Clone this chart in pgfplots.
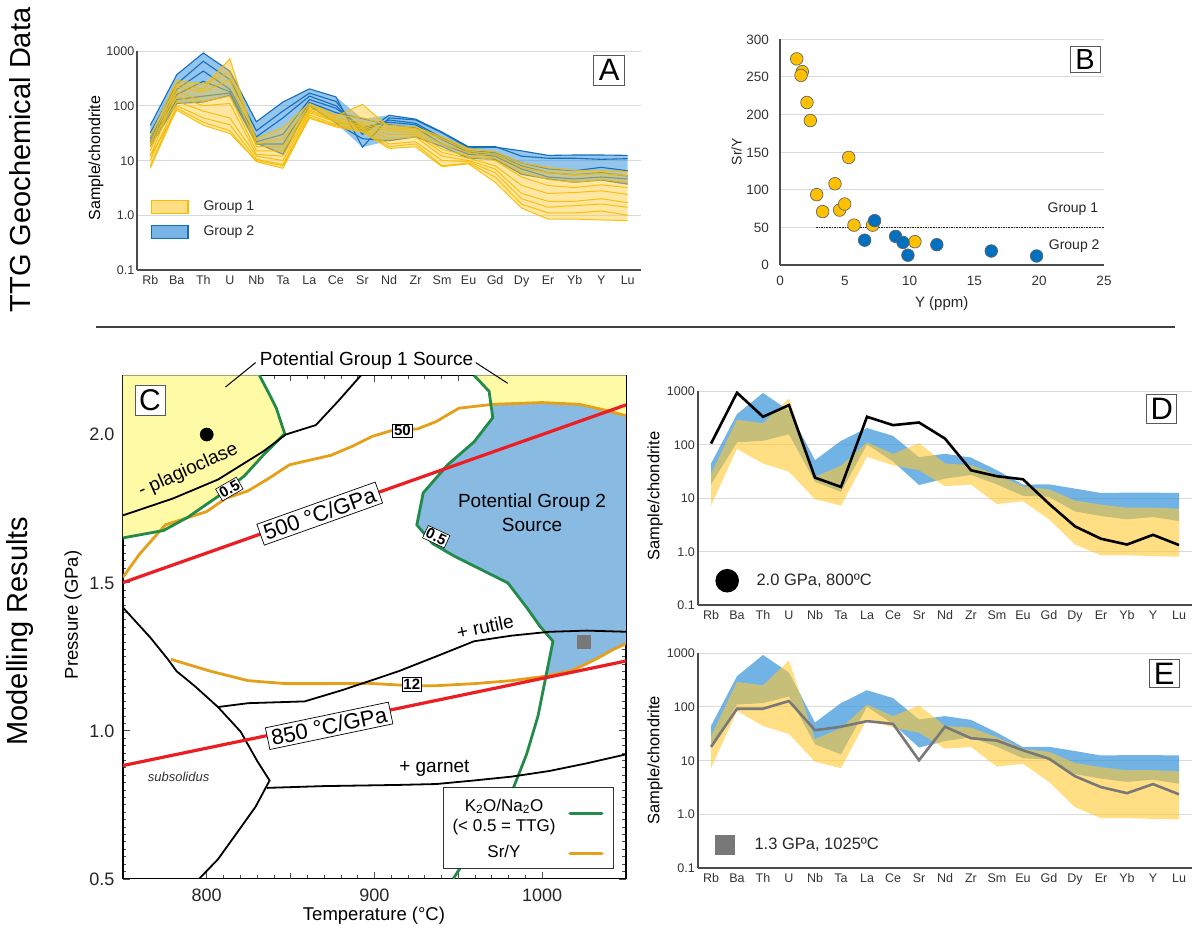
\documentclass[border=0pt]{standalone}
\usepackage{pgfplots}
\pgfplotsset{compat=1.18}
\usepackage{pgfplotstable}
\usepackage{fontspec}
\setmainfont{Liberation Sans}
\newcommand\fs[1]{\fontsize{#1}{#1}\selectfont}
\definecolor{gOneLine}{RGB}{245,188,0}
\definecolor{gOneFill}{RGB}{255,200,50}
\definecolor{gTwoLine}{RGB}{20,110,190}
\definecolor{gTwoFill}{RGB}{60,150,220}
\definecolor{ptYel}{RGB}{255,192,0}
\definecolor{ptBlu}{RGB}{0,112,192}
\definecolor{cYel}{RGB}{255,250,165}
\definecolor{cBlue}{RGB}{137,186,226}
\definecolor{cGreen}{RGB}{34,139,74}
\definecolor{cOrange}{RGB}{229,160,25}
\definecolor{cRed}{RGB}{235,30,36}
\definecolor{eGray}{RGB}{120,120,120}

\pgfplotstableread{
x b1 b2 b3 b4 b5 b6 y1 y2 y3 y4 y5 y6 y7 y8 y9 D E
0 44 32 25 22 20 18 28 20 15 12 18 10 8 7.2 12 104 17.9
1 370 250 200 160 130 110 290 250 220 180 150 120 100 90 83 930 92
2 920 650 430 280 150 117 250 200 180 120 100 80 60 50 44 330 92
3 430 300 200 180 170 155 400 725 300 150 110 60 45 35 31 545 128
4 51 35 27 22 20 21 25 20 18 15 13 12 10.5 9.5 10 24 36.7
5 117 80 60 30 20 13 40 25 18 15 12 10 8.5 7.2 8 16.1 42.5
6 203 170 150 130 115 100 110 100 90 85 80 75 68 62 59 330 54
7 145 120 100 90 75 48 67 65 60 55 52 50 45 43 41 230 48
8 17.5 30 35 40 58 25 60 106 50 45 42 40 38 35 33 258 10.1
9 60 67 55 50 45 23 44 40 38 35 30 25 20 18 16.6 129 42.5
10 55 57 48 45 40 27 41 38 35 32 30 27 22 20 17.8 33 26
11 32 33 26 24 20 18 27 25 20 16 14 12 10 8 7.7 25.5 23.5
12 17 17.8 15 14 13 11 16.5 15 14 12 11 10 9.5 9 8.7 22.4 15.5
13 17.5 18 14 13 12 10.5 14.5 13 11 10 8 7 6 5 4 7.8 10.8
14 15 12 9 8 7 5.6 9 7.5 6 5 3.5 2.5 2.0 1.6 1.35 2.95 5.1
15 12.4 11 7 6 5 4.6 7.5 6 4.5 3.5 2.5 1.8 1.4 1.1 0.85 1.73 3.2
16 12.6 11 6.5 5.5 4.6 4.0 6.6 5.5 4.0 3.2 2.6 1.8 1.5 1.1 0.85 1.35 2.47
17 12.6 10.5 7.5 6 5 4.4 6.6 5.8 4.5 3.6 2.8 2.0 1.6 1.2 0.82 2.05 3.64
18 12.4 10.8 6.5 5.2 4.6 3.7 6.3 5.3 4.0 3.2 2.4 1.7 1.4 1.0 0.8 1.32 2.35
}\spider

\pgfplotstableread{
x v
0 44
1 370
2 920
3 430
4 51
5 117
6 203
7 145
8 58
9 67
10 57
11 33
12 17.8
13 18
14 15
15 12.4
16 12.6
17 12.6
18 12.4
18 3.7
17 4.4
16 4.0
15 4.6
14 5.6
13 10.5
12 11
11 18
10 27
9 23
8 17.5
7 48
6 100
5 13
4 20
3 155
2 117
1 110
0 18
}\gtwo

\pgfplotstableread{
x v
0 28
1 290
2 250
3 725
4 25
5 40
6 110
7 67
8 106
9 44
10 41
11 27
12 16.5
13 14.5
14 9
15 7.5
16 6.6
17 6.6
18 6.3
18 0.8
17 0.82
16 0.85
15 0.85
14 1.35
13 4
12 8.7
11 7.7
10 17.8
9 16.6
8 33
7 41
6 59
5 7.2
4 9.5
3 31
2 44
1 83
0 7.2
}\gone

\pgfplotstableread{
x y
1.29 274
1.72 257
1.62 252
2.08 216
2.34 192
5.30 143
4.24 108
2.83 93.5
3.29 71
4.60 73
4.99 81
5.71 53
7.15 53
10.41 31
}\bone

\pgfplotstableread{
x y
7.30 59
6.53 33
8.92 38
9.49 30
9.87 13
12.1 27
16.3 18.6
19.8 12
}\btwo

\begin{document}
\begin{tikzpicture}
\path[use as bounding box] (0,0) rectangle (1192pt,-927pt);

% ---------- A ----------
\begin{axis}[at={(137pt,-270pt)}, anchor=south west, scale only axis, width=504pt, height=219pt,
    ymode=log, ymin=0.1, ymax=1000, xmin=-0.5, xmax=18.5,
    axis x line*=bottom, axis y line*=left,
    axis line style={-, black!70, line width=1.1pt},
    xtick={0,...,18},
    xticklabels={Rb,Ba,Th,U,Nb,Ta,La,Ce,Sr,Nd,Zr,Sm,Eu,Gd,Dy,Er,Yb,Y,Lu},
    ytick={0.1,1,10,100,1000}, yticklabels={0.1,1.0,10,100,1000},
    yminorticks=false, major tick length=0pt,
    ymajorgrids, major grid style={black!15, line width=0.9pt},
    tick label style={font=\fs{12.5}, text=black!80, inner sep=0pt, text height=9pt, text depth=0pt},
    xticklabel shift=4.8pt, yticklabel shift=2.5pt, clip=true]
\addplot[fill=gTwoFill, fill opacity=0.55, draw=none] table[x=x,y=v]{\gtwo} -- cycle;
\pgfplotsinvokeforeach{b1,b2,b3,b4,b5,b6}{
  \addplot[gTwoLine, line width=1.1pt] table[x=x,y=#1]{\spider};
}
\addplot[fill=gOneFill, fill opacity=0.45, draw=none] table[x=x,y=v]{\gone} -- cycle;
\pgfplotsinvokeforeach{y1,y2,y3,y4,y5,y6,y7,y8,y9}{
  \addplot[gOneLine, line width=1.0pt, opacity=0.9] table[x=x,y=#1]{\spider};
}
\end{axis}
\node[font=\fs{16}, rotate=90] at (96pt,-158pt) {Sample/chondrite};
\draw[line width=1.5pt, draw=gOneLine, fill=gOneFill!60] (151.4pt,-200.7pt) rectangle (188.2pt,-213.3pt);
\draw[line width=1.5pt, draw=gTwoLine, fill=gTwoFill!70] (151.4pt,-225.7pt) rectangle (188.2pt,-238.3pt);
\node[font=\fs{14}, anchor=west, text=black!85] at (200pt,-207pt) {Group 1};
\node[font=\fs{14}, anchor=west, text=black!85] at (200pt,-232pt) {Group 2};
\draw[black!65, line width=1pt, fill=white] (593.6pt,-55pt) rectangle (624.6pt,-85pt);
\node[font=\fs{31}] at (609.1pt,-70pt) {A};

% ---------- B ----------
\begin{axis}[at={(780pt,-265pt)}, anchor=south west, scale only axis, width=324pt, height=225.7pt,
  xmin=0, xmax=25, ymin=0, ymax=300,
  axis x line*=bottom, axis y line*=left,
  axis line style={-, black!70, line width=1.1pt},
  xtick={0,5,...,25}, ytick={0,50,...,300},
  major tick length=0pt, ymajorgrids, major grid style={black!15, line width=0.9pt},
  tick label style={font=\fs{13.5}, text=black!80, inner sep=0pt, text height=9.7pt, text depth=0pt},
  xticklabel shift=10.5pt, yticklabel shift=11pt,
  /pgf/number format/assume math mode=true, clip=false]
\addplot[black!85, densely dotted, line width=1.6pt] coordinates {(2.78,50) (25,50)};
\addplot[only marks, mark=*, mark size=6.3pt, mark options={fill=ptYel, draw=black!60, line width=0.7pt}] table[x=x,y=y]{\bone};
\addplot[only marks, mark=*, mark size=6.3pt, mark options={fill=ptBlu, draw=black!60, line width=0.7pt}] table[x=x,y=y]{\btwo};
\node[font=\fs{14}, text=black!85] at (axis cs:22.6,74) {Group 1};
\node[font=\fs{14}, text=black!85] at (axis cs:22.7,25) {Group 2};
\end{axis}
\node[font=\fs{14}, rotate=90, text=black!85] at (736.7pt,-151.7pt) {Sr/Y};
\node[font=\fs{15}, text=black!85] at (941.7pt,-304pt) {Y (ppm)};
\draw[black!65, line width=1pt, fill=white] (1070pt,-46.7pt) rectangle (1100pt,-72.3pt);
\node[font=\fs{29}] at (1085pt,-59.5pt) {B};

% ---------- separator & side titles ----------
\draw[black!75, line width=1.1pt] (96pt,-327pt) -- (1175pt,-327pt);
\node[font=\fs{29}, rotate=90] at (20pt,-160pt) {TTG Geochemical Data};
\node[font=\fs{29}, rotate=90] at (20pt,-631pt) {Modelling Results};

% ---------- C ----------
\begin{axis}[at={(122.9pt,-878.8pt)}, anchor=south west, scale only axis, width=503pt, height=503.5pt,
  xmin=750, xmax=1050, ymin=0.5, ymax=2.2,
  xtick={800,900,1000}, ytick={0.5,1.0,1.5,2.0}, yticklabels={0.5,1.0,1.5,2.0},
  minor x tick num=9, minor y tick num=19,
  extra x ticks={850,950}, extra x tick labels={}, extra x tick style={major tick length=6pt},
  tick align=inside, major tick length=7pt, minor tick length=3.5pt,
  tick style={black!70, line width=0.6pt},
  axis line style={black, line width=1.2pt},
  tick label style={font=\fs{18}, text=black!85, inner sep=0pt, text height=12.9pt, text depth=0pt},
  xticklabel shift=9.7pt, yticklabel shift=8.4pt,
  /pgf/number format/assume math mode=true, /pgf/number format/1000 sep={}, clip=true]
\addplot[fill=cYel, draw=none] coordinates {(750,2.2) (750,1.651) (774.2,1.676) (788.8,1.721) (806.7,1.791) (822.4,1.860) (834.8,1.937) (846.5,2.003) (841.5,2.089) (837.0,2.140) (831.4,2.2)} -- cycle;
\addplot[fill=cYel, draw=none] coordinates {(959.4,2.2) (968.4,2.146) (970.6,2.102) (999.8,2.108) (1022.2,2.102) (1035.7,2.085) (1050,2.063) (1050,2.2)} -- cycle;
\addplot[fill=cBlue, draw=none] coordinates {(970.6,2.102) (999.8,2.108) (1022.2,2.102) (1035.7,2.085) (1050,2.063) (1050,1.296) (1042.4,1.274) (1031.2,1.239) (1017.7,1.203) (1002.0,1.184) (1006.5,1.302) (998.7,1.353) (990.8,1.416) (979.6,1.499) (961.6,1.550) (948.1,1.588) (934.7,1.632) (925.3,1.695) (929.1,1.803) (943.7,1.898) (959.4,1.975) (970.6,2.057)} -- cycle;
\addplot[cOrange, line width=2.8pt] coordinates {(750,1.518) (759.6,1.594) (775.3,1.695) (800,1.740) (811.2,1.784) (824.7,1.810) (835.9,1.848) (849.4,1.898) (874.1,1.930) (887.5,1.962) (898.8,1.994) (910.0,2.013) (925.7,2.019) (936.9,2.044) (950.4,2.089) (970.6,2.102) (999.8,2.108) (1022.2,2.102) (1035.7,2.085) (1050.7,2.063)};
\addplot[cOrange, line width=2.8pt] coordinates {(778.7,1.241) (802.2,1.201) (824.7,1.169) (847.1,1.159) (869.6,1.159) (896.5,1.160) (922.3,1.152) (936.9,1.152) (959.4,1.159) (981.8,1.169) (1002.0,1.184) (1017.7,1.203) (1031.2,1.239) (1042.4,1.274) (1050.7,1.296)};
\addplot[cGreen, line width=2.8pt] coordinates {(750,1.651) (774.2,1.676) (788.8,1.721) (806.7,1.791) (822.4,1.860) (834.8,1.937) (846.5,2.003) (841.5,2.089) (837.0,2.140) (831.4,2.2)};
\addplot[cGreen, line width=2.8pt] coordinates {(959.4,2.2) (968.4,2.146) (970.6,2.057) (959.4,1.975) (943.7,1.898) (929.1,1.803) (925.3,1.695) (934.7,1.632) (948.1,1.588) (961.6,1.550) (979.6,1.499) (990.8,1.416) (998.7,1.353) (1006.5,1.302) (1002.0,1.175) (997.5,1.048) (990.8,0.921) (982.9,0.807) (966.1,0.668) (947.0,0.5)};
\addplot[black, line width=1.8pt] coordinates {(750,1.727) (779.8,1.784) (806.7,1.848) (833.7,1.943) (847.1,2.0) (865.1,2.032) (878.6,2.114) (892.0,2.2)};
\addplot[black, line width=1.8pt] coordinates {(750,1.416) (766.3,1.315) (777,1.240) (782.0,1.201) (793,1.150) (806.7,1.080) (820.2,0.997) (830.3,0.896) (837.5,0.832) (829.2,0.744) (818.0,0.655) (806.7,0.566) (795.5,0.5)};
\addplot[black, line width=1.8pt] coordinates {(806.7,1.080) (824.7,1.093) (858.4,1.099) (880.8,1.137) (914.5,1.201) (936.9,1.251) (959.4,1.302) (981.8,1.321) (1004.3,1.334) (1026.7,1.338) (1050.7,1.334)};
\addplot[black, line width=1.8pt] coordinates {(835.9,0.807) (869.6,0.813) (914.5,0.817) (936.9,0.820) (959.4,0.832) (981.8,0.845) (1004.3,0.864) (1026.7,0.890) (1050.7,0.921)};
\addplot[cRed, line width=3.2pt] coordinates {(750,1.5) (1050,2.1)};
\addplot[cRed, line width=3.2pt] coordinates {(750,0.88235) (1050,1.23529)};
\addplot[only marks, mark=*, mark size=6.6pt, black] coordinates {(800,2.0)};
\addplot[only marks, mark=square*, mark size=6.6pt, eGray] coordinates {(1025,1.3)};
\node[draw, fill=white, rotate=30, font=\fs{15}\bfseries, inner sep=1.5pt, line width=0.6pt] at (axis cs:813.5,1.816) {0.5};
\node[draw, fill=white, rotate=-25, font=\fs{15}\bfseries, inner sep=1.5pt, line width=0.6pt] at (axis cs:936.9,1.655) {0.5};
\node[draw, fill=white, font=\fs{15}\bfseries, inner sep=1.5pt, line width=0.6pt] at (axis cs:916.7,2.013) {50};
\node[draw, fill=white, font=\fs{15}\bfseries, inner sep=1.5pt, line width=0.6pt] at (axis cs:922.3,1.156) {12};
\node[draw, fill=white, rotate=19.6, font=\fs{22}, inner xsep=4pt, inner ysep=3pt, line width=0.7pt] at (axis cs:867.4,1.733) {500 °C/GPa};
\node[draw, fill=white, rotate=11.8, font=\fs{22}, inner xsep=4pt, inner ysep=3pt, line width=0.7pt] at (axis cs:873,1.0165) {850 °C/GPa};
\node[font=\fs{19}, rotate=24] at (axis cs:789,1.878) {- plagioclase};
\node[font=\fs{19}, rotate=12] at (axis cs:966,1.352) {+ rutile};
\node[font=\fs{19}] at (axis cs:935.8,0.874) {+ garnet};
\node[font=\fs{13}\itshape, text=black!80] at (axis cs:783.2,0.845) {subsolidus};
\node[font=\fs{19}, align=center, inner sep=0pt] at (axis cs:994,1.737) {Potential Group 2\\[5pt]Source};
\draw[draw=black!80, fill=white, line width=0.8pt] (axis cs:941.4,0.807) rectangle (axis cs:1042.4,0.534);
\draw[cGreen, line width=3.2pt, line cap=round] (axis cs:1016.7,0.721) -- (axis cs:1035.7,0.721);
\draw[cOrange, line width=3.2pt, line cap=round] (axis cs:1016.7,0.585) -- (axis cs:1035.7,0.585);
\node[font=\fs{17}] at (axis cs:977.3,0.744) {K\textsubscript{2}O/Na\textsubscript{2}O};
\node[font=\fs{17}] at (axis cs:977.3,0.674) {(< 0.5 = TTG)};
\node[font=\fs{17}] at (axis cs:977.3,0.591) {Sr/Y};
\end{axis}
\draw[black!65, line width=1pt, fill=white] (135pt,-385pt) rectangle (165pt,-415pt);
\node[font=\fs{30}] at (150pt,-400pt) {C};
\node[font=\fs{19}] at (366.6pt,-360.7pt) {Potential Group 1 Source};
\draw[black, line width=1pt] (255.6pt,-362.6pt) -- (225.5pt,-387pt);
\draw[black, line width=1pt] (475.7pt,-362.6pt) -- (507.7pt,-383.3pt);
\node[font=\fs{18.5}, rotate=90] at (73pt,-615pt) {Pressure (GPa)};
\node[font=\fs{18.5}] at (374pt,-916pt) {Temperature (°C)};

% ---------- D ----------
\begin{axis}[at={(698pt,-605pt)}, anchor=south west, scale only axis, width=494pt, height=214pt,
    ymode=log, ymin=0.1, ymax=1000, xmin=-0.5, xmax=18.5,
    axis x line*=bottom, axis y line*=left,
    axis line style={-, black!70, line width=1.1pt},
    xtick={0,...,18},
    xticklabels={Rb,Ba,Th,U,Nb,Ta,La,Ce,Sr,Nd,Zr,Sm,Eu,Gd,Dy,Er,Yb,Y,Lu},
    ytick={0.1,1,10,100,1000}, yticklabels={0.1,1.0,10,100,1000},
    yminorticks=false, major tick length=0pt,
    ymajorgrids, major grid style={black!15, line width=0.9pt},
    tick label style={font=\fs{12.5}, text=black!80, inner sep=0pt, text height=9pt, text depth=0pt},
    xticklabel shift=4.8pt, yticklabel shift=3pt, clip=true]
\addplot[fill=gTwoFill, fill opacity=0.72, draw=none] table[x=x,y=v]{\gtwo} -- cycle;
\addplot[fill=gOneFill, fill opacity=0.6, draw=none] table[x=x,y=v]{\gone} -- cycle;
\addplot[black, line width=2.6pt] table[x=x,y=D]{\spider};
\end{axis}
\node[font=\fs{16.5}, rotate=90] at (655.2pt,-496pt) {Sample/chondrite};
\fill[black] (727.2pt,-580.7pt) circle (11.8pt);
\node[font=\fs{16.5}, anchor=west, text=black!85] at (753pt,-580.7pt) {2.0 GPa, 800ºC};
\draw[black!65, line width=1pt, fill=white] (1146.7pt,-394pt) rectangle (1176.7pt,-423.3pt);
\node[font=\fs{31}] at (1161.7pt,-408.7pt) {D};

% ---------- E ----------
\begin{axis}[at={(698pt,-868pt)}, anchor=south west, scale only axis, width=494pt, height=215pt,
    ymode=log, ymin=0.1, ymax=1000, xmin=-0.5, xmax=18.5,
    axis x line*=bottom, axis y line*=left,
    axis line style={-, black!70, line width=1.1pt},
    xtick={0,...,18},
    xticklabels={Rb,Ba,Th,U,Nb,Ta,La,Ce,Sr,Nd,Zr,Sm,Eu,Gd,Dy,Er,Yb,Y,Lu},
    ytick={0.1,1,10,100,1000}, yticklabels={0.1,1.0,10,100,1000},
    yminorticks=false, major tick length=0pt,
    ymajorgrids, major grid style={black!15, line width=0.9pt},
    tick label style={font=\fs{12.5}, text=black!80, inner sep=0pt, text height=9pt, text depth=0pt},
    xticklabel shift=4.8pt, yticklabel shift=3pt, clip=true]
\addplot[fill=gTwoFill, fill opacity=0.72, draw=none] table[x=x,y=v]{\gtwo} -- cycle;
\addplot[fill=gOneFill, fill opacity=0.6, draw=none] table[x=x,y=v]{\gone} -- cycle;
\addplot[eGray, line width=2.6pt] table[x=x,y=E]{\spider};
\end{axis}
\node[font=\fs{16.5}, rotate=90] at (655.2pt,-760pt) {Sample/chondrite};
\fill[eGray] (715.2pt,-835pt) rectangle (735.2pt,-855pt);
\node[font=\fs{16.5}, anchor=west, text=black!85] at (751pt,-845pt) {1.3 GPa, 1025ºC};
\draw[black!65, line width=1pt, fill=white] (1149pt,-659pt) rectangle (1179.3pt,-687.7pt);
\node[font=\fs{31}] at (1164.2pt,-673.4pt) {E};
\end{tikzpicture}
\end{document}
